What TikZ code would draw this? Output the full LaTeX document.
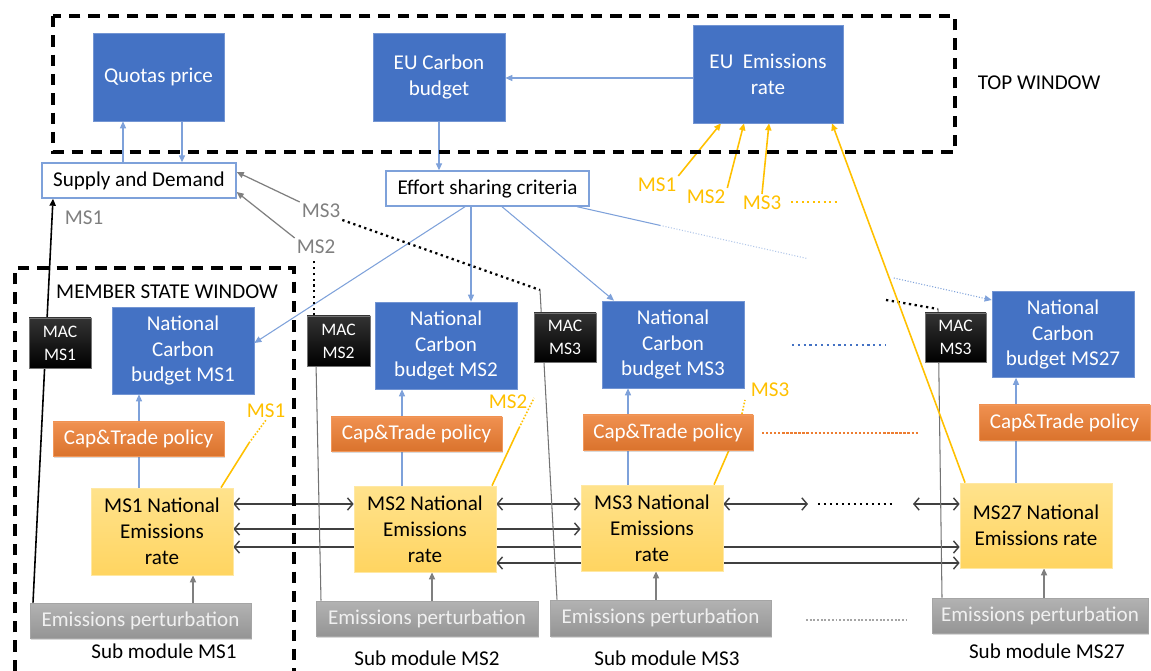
\documentclass[tikz,border=0pt]{standalone}
\usepackage{fontspec}
\setmainfont{Carlito}
\usetikzlibrary{arrows.meta,backgrounds,calc,shadows}
\definecolor{boxblue}{HTML}{4472C4}
\definecolor{lineblue}{HTML}{7EA1DA}
\definecolor{capor}{HTML}{ED7D31}
\definecolor{neryel}{HTML}{FFD966}
\definecolor{gold}{HTML}{FFC000}
\definecolor{pertgray}{HTML}{A5A5A5}
\definecolor{txtgray}{HTML}{7F7F7F}
\definecolor{arrgray}{HTML}{404040}
\tikzset{
  wh/.style 2 args={minimum width=#1*0.02cm, minimum height=#2*0.02cm},
  basebox/.style={rectangle, inner sep=0pt, align=center, font=\fontsize{12}{14.7}\selectfont},
  bluebox/.style={basebox, fill=boxblue, draw=boxblue!75!white, text=white},
  whitebox/.style={basebox, fill=white, draw=lineblue, line width=0.8pt, text=black},
  capbox/.style={basebox, top color=capor!85!white, bottom color=capor!92!black, draw=capor!80!white, text=white,
    drop shadow={shadow xshift=0.6pt, shadow yshift=-1pt, opacity=0.3}},
  nerbox/.style={basebox, top color=neryel!75!white, bottom color=neryel!95!orange, draw=neryel!60!white, text=black},
  pertbox/.style={basebox, top color=pertgray!85!white, bottom color=pertgray!90!black, draw=pertgray, text=white!94!black,
    drop shadow={shadow xshift=0.6pt, shadow yshift=-1pt, opacity=0.3}},
  macbox/.style={basebox, top color=black!80, bottom color=black, draw=black!55, text=white, font=\fontsize{10}{13}\selectfont},
  plain/.style={inner sep=1pt, font=\fontsize{12}{14.7}\selectfont},
  graylbl/.style={plain, text=txtgray},
  goldlbl/.style={plain, text=gold},
  window/.style={black, line width=1.9pt, dash pattern=on 6.5pt off 4.5pt},
  blueline/.style={lineblue, line width=0.6pt},
  bluearr/.style={blueline, -{Triangle[length=4pt,width=3.5pt]}},
  grayarr/.style={txtgray, line width=0.7pt, -{Triangle[length=4pt,width=3.5pt]}},
  nerarr/.style={arrgray, line width=0.8pt, {Straight Barb[length=3pt,width=7pt]}-{Straight Barb[length=3pt,width=7pt]}},
  macline/.style={black!55, line width=0.6pt},
  dotblack/.style={black, line width=1.3pt, dotted},
  goldline/.style={gold, line width=0.9pt},
  goldarr/.style={goldline, -{Triangle[length=4pt,width=3.5pt]}}
}
\begin{document}
\begin{tikzpicture}[x=0.02cm, y=-0.02cm]
  \useasboundingbox (0,0) rectangle (1151,671);
  % windows
  \draw[window] (53,16) rectangle (955,152);
  \draw[window] (15,671) -- (15,268) -- (294,268) -- (294,671);
  \node[plain] (topwin) at (1039,83) {TOP WINDOW};
  \node[plain] (mswin) at (167,292) {MEMBER STATE WINDOW};
  % top window boxes
  \node[bluebox, wh={131}{88}] (quotas) at (158.5,77) {Quotas price};
  \node[bluebox, wh={132}{88}] (eucarbon) at (439,77) {EU Carbon\\budget};
  \node[bluebox, wh={150}{98}] (euemis) at (768,74) {EU\ \ Emissions\\rate};
  \node[whitebox, wh={194}{35}] (supply) at (139,180.5) {Supply and Demand};
  \node[whitebox, wh={203}{35}] (effort) at (487.5,188.5) {Effort sharing criteria};
  % labels
  \node[graylbl] (lms1) at (84,218) {MS1};
  \node[graylbl] (lms3) at (321,211) {MS3};
  \node[graylbl] (lms2) at (316,247) {MS2};
  \node[goldlbl] (gtop1) at (657,185) {MS1};
  \node[goldlbl] (gtop2) at (706,197) {MS2};
  \node[goldlbl] (gtop3) at (762,203) {MS3};
  \node[goldlbl] (gms1) at (266,411) {MS1};
  \node[goldlbl] (gms2) at (508,402) {MS2};
  \node[goldlbl] (gms3) at (770,390) {MS3};
  % national carbon budgets
  \node[bluebox, wh={142}{87}] (ncb1) at (183,350.5) {National\\Carbon\\budget MS1};
  \node[bluebox, wh={142}{87}] (ncb2) at (446,345.5) {National\\Carbon\\budget MS2};
  \node[bluebox, wh={142}{87}] (ncb3) at (673,344.5) {National\\Carbon\\budget MS3};
  \node[bluebox, wh={142}{86}] (ncb27) at (1063,334.5) {National\\Carbon\\budget MS27};
  % MAC boxes
  \node[macbox, wh={62}{50}] (mac1) at (60,343) {MAC\\MS1};
  \node[macbox, wh={63}{50}] (mac2) at (338.5,341) {MAC\\MS2};
  \node[macbox, wh={62}{49}] (mac3) at (565,337.5) {MAC\\MS3};
  \node[macbox, wh={61}{49}] (mac27) at (955.5,337.5) {MAC\\MS3};
  % cap and trade
  \node[capbox, wh={171}{34}] (cap1) at (138.5,439) {Cap\&Trade policy};
  \node[capbox, wh={171}{34}] (cap2) at (416.5,434) {Cap\&Trade policy};
  \node[capbox, wh={170}{35}] (cap3) at (668,432.5) {Cap\&Trade policy};
  \node[capbox, wh={171}{35}] (cap27) at (1064.5,422.5) {Cap\&Trade policy};
  % national emissions rates
  \node[nerbox, wh={142}{87}] (ner1) at (162,531.5) {MS1 National\\Emissions\\rate};
  \node[nerbox, wh={142}{86}] (ner2) at (425,529) {MS2 National\\Emissions\\rate};
  \node[nerbox, wh={142}{86}] (ner3) at (652,528) {MS3 National\\Emissions\\rate};
  \node[nerbox, wh={152}{85}] (ner27) at (1036,525.5) {MS27 National\\Emissions rate};
  % perturbations
  \node[pertbox, wh={221}{35}] (ep1) at (140.5,620.5) {Emissions perturbation};
  \node[pertbox, wh={222}{35}] (ep2) at (427,618.5) {Emissions perturbation};
  \node[pertbox, wh={221}{36}] (ep3) at (660.5,618) {Emissions perturbation};
  \node[pertbox, wh={216}{35}] (ep27) at (1040,615.5) {Emissions perturbation};
  \node[plain] (sub1) at (164,651) {Sub module MS1};
  \node[plain] (sub2) at (427,658) {Sub module MS2};
  \node[plain] (sub3) at (667,658) {Sub module MS3};
  \node[plain] (sub27) at (1047,651) {Sub module MS27};
  \begin{pgfonlayer}{background}
    % top window links
    \draw[bluearr] (euemis.west |- 0,78) -- (eucarbon.east |- 0,78);
    \draw[bluearr] (supply.north -| 123,0) -- (quotas.south -| 123,0);
    \draw[bluearr] (quotas.south -| 182,0) -- (supply.north -| 182,0);
    \draw[bluearr] (eucarbon.south) -- (effort.north -| eucarbon.south);
    % effort sharing to member states
    \draw[bluearr] (effort.south -| 465,0) -- (ncb1.east |- 0,343);
    \draw[bluearr] (effort.south -| 471,0) -- (ncb2.north -| 471,0);
    \draw[bluearr] (effort.south -| 502,0) -- (ncb3.north -| 614,0);
    \coordinate (e27a) at (effort.south -| 577,0);
    \coordinate (e27b) at (ncb27.west |- 0,300);
    \draw[blueline] (e27a) -- ($(e27a)!0.2!(e27b)$);
    \draw[blueline, densely dotted, opacity=0.6] ($(e27a)!0.2!(e27b)$) -- ($(e27a)!0.555!(e27b)$);
    \draw[bluearr, densely dotted] ($(e27a)!0.764!(e27b)$) -- (e27b);
    % emissions rate to carbon budget
    \draw[bluearr] (ner1.north -| 139,0) -- (ncb1.south -| 139,0);
    \draw[bluearr] (ner2.north -| 402,0) -- (ncb2.south -| 402,0);
    \draw[bluearr] (ner3.north -| 628,0) -- (ncb3.south -| 628,0);
    \draw[bluearr] (ner27.north -| 1016,0) -- (ncb27.south -| 1016,0);
    % perturbation to emissions rate
    \draw[grayarr] (ep1.north -| 193,0) -- (ner1.south -| 193,0);
    \draw[grayarr] (ep2.north -| 432,0) -- (ner2.south -| 432,0);
    \draw[grayarr] (ep3.north -| 656,0) -- (ner3.south -| 656,0);
    \draw[grayarr] (ep27.north -| 1044,0) -- (ner27.south -| 1044,0);
    % exchanges between member states
    \draw[nerarr] (ner1.east |- 0,504) -- (ner2.west |- 0,504);
    \draw[nerarr] (ner2.east |- 0,504) -- (ner3.west |- 0,504);
    \coordinate (r3end) at (808,504);
    \coordinate (r27start) at (913,504);
    \draw[nerarr] (ner3.east |- 0,504) -- (r3end);
    \draw[black, line width=1.4pt, dotted] (818,504) -- (893,504);
    \draw[nerarr] (r27start) -- (ner27.west |- 0,504);
    \draw[nerarr] (ner1.east |- 0,529) -- (ner3.west |- 0,529);
    \draw[nerarr] (ner1.east |- 0,547) -- (ner27.west |- 0,547);
    \draw[nerarr] (ner2.east |- 0,563) -- (ner27.west |- 0,563);
    % MAC links to supply and demand
    \draw[black, line width=0.9pt, -{Triangle[length=4pt,width=3.5pt]}] (ep1.north -| 33,0) -- (supply.south -| 53,0);
    \draw[macline] (mac2.north -| 315,0) -- (ep2.north -| 321,0);
    \draw[dotblack] (mac2.north -| 314,0) -- (314,258);
    \draw[grayarr] (lms2.north west) -- (supply.east |- 0,192);
    \draw[grayarr] (lms3.north west) -- (supply.east |- 0,172);
    \coordinate (m3top) at (540,290);
    \draw[dotblack] (lms3.south east) -- (m3top);
    \draw[macline] (m3top) -- (ep3.north -| 557,0);
    \coordinate (m27top) at (938,309);
    \draw[dotblack] (886,300) -- (m27top);
    \draw[macline] (m27top) -- (ep27.north -| 942,0);
    % national rates to EU rate
    \draw[goldline] (ner1.north -| 221,0) -- (249,443);
    \draw[goldline, densely dotted] (249,443) -- (gms1.south);
    \draw[goldline] (ner2.north -| 492,0) -- (519,428);
    \draw[goldline, densely dotted] (519,428) -- (534,398);
    \draw[goldline] (ner3.north -| 714,0) -- (739,427);
    \draw[goldline, densely dotted] (739,427) -- (745,400);
    \draw[goldarr] (ner27.north -| 965,0) -- (euemis.south -| 832,0);
    \draw[goldarr] (gtop1.north east) -- (euemis.south -| 721,0);
    \draw[goldarr] (gtop2.north east) -- (euemis.south -| 744,0);
    \draw[goldarr] (gtop3.north) -- (euemis.south -| 769,0);
    \draw[gold, line width=1.1pt, dotted] (791,202) -- (840,202);
    % more member states
    \draw[boxblue, line width=1.3pt, dotted] (792,345) -- (885,345);
    \draw[capor, line width=1.3pt, densely dotted] (762,433) -- (918,433);
    \draw[pertgray, line width=1.1pt, densely dotted] (806,620) -- (906,620);
  \end{pgfonlayer}
\end{tikzpicture}
\end{document}
